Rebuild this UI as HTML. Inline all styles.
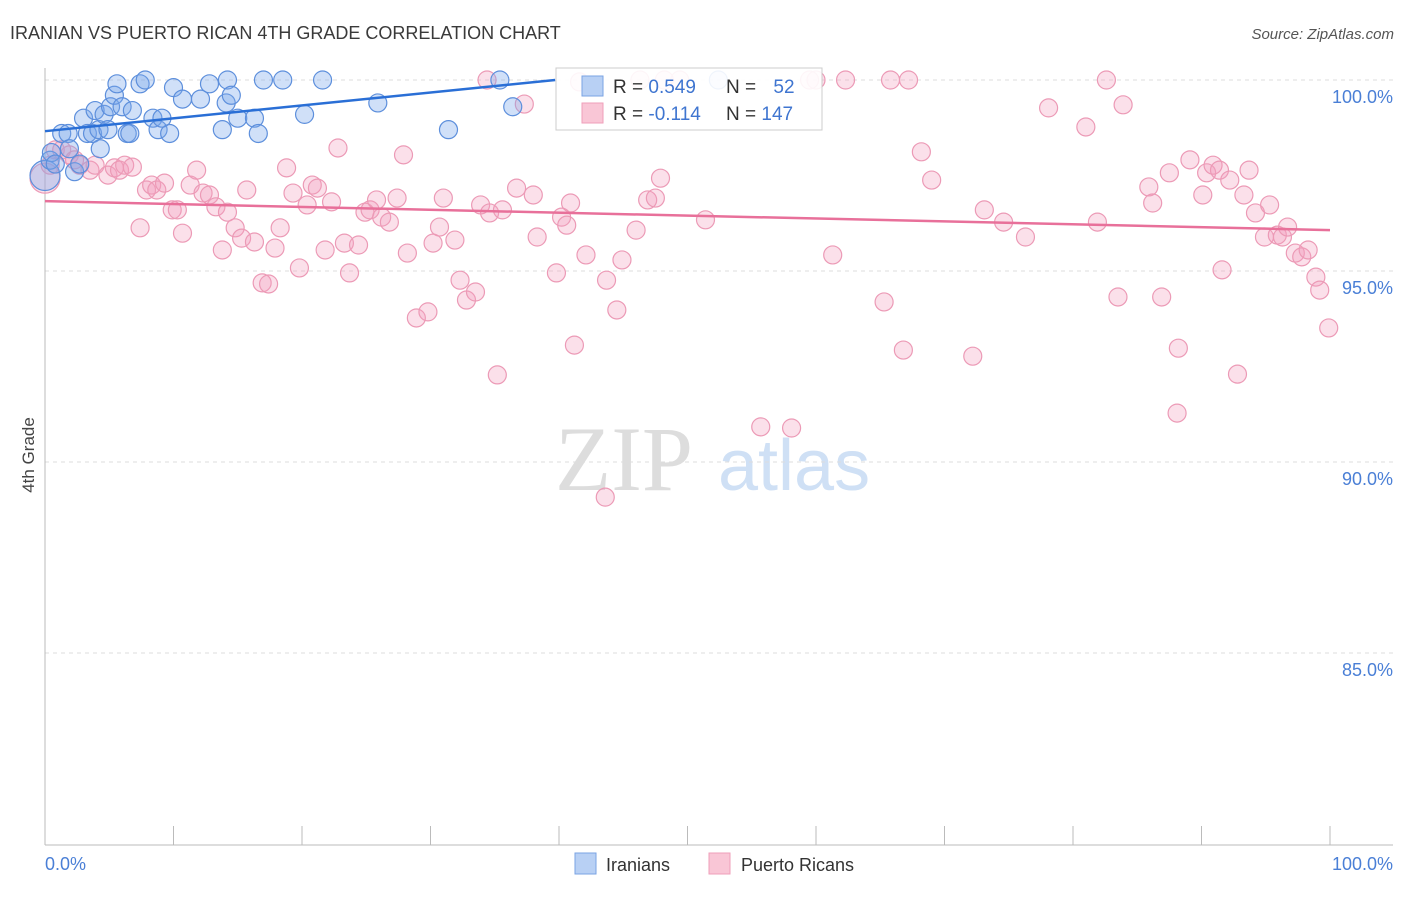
<!DOCTYPE html>
<html><head><meta charset="utf-8"><style>
body{margin:0;background:#fff;font-family:"Liberation Sans",sans-serif}
</style></head><body>
<svg id="chart" width="1406" height="892" viewBox="0 0 1406 892" xmlns="http://www.w3.org/2000/svg" font-family="Liberation Sans, sans-serif">
<text x="10" y="39" font-size="18" fill="#3a3a3a">IRANIAN VS PUERTO RICAN 4TH GRADE CORRELATION CHART</text>
<text x="1394" y="39" font-size="15" fill="#555" text-anchor="end" font-style="italic">Source: ZipAtlas.com</text>
<g>
<text x="555" y="490" font-size="92" fill="#ddd" font-family="Liberation Serif, serif">ZIP</text>
<text x="718" y="490" font-size="72" fill="#cfe0f5">atlas</text>
</g>
<g id="grid"></g>
<g id="axes"></g>
<g id="pts"></g>
<g id="lines"></g>
<text transform="translate(34,455) rotate(-90)" font-size="17" fill="#444" text-anchor="middle">4th Grade</text>
<g>
<rect x="556" y="68" width="266" height="62" fill="#fff" fill-opacity="0.9" stroke="#ccc"/>
<rect x="582" y="76" width="21" height="20" fill="#b8d0f4" stroke="#7aa3e3"/>
<rect x="582" y="103" width="21" height="20" fill="#f9c6d6" stroke="#ef9fba"/>
<text x="613" y="93" font-size="19" fill="#333">R = <tspan fill="#3f75d0">0.549</tspan></text>
<text x="726" y="93" font-size="19" fill="#333">N = <tspan fill="#3f75d0" dx="12">52</tspan></text>
<text x="613" y="120" font-size="19" fill="#333">R = <tspan fill="#3f75d0">-0.114</tspan></text>
<text x="726" y="120" font-size="19" fill="#333">N = <tspan fill="#3f75d0">147</tspan></text>
</g>
<g>
<rect x="575" y="853" width="21" height="21" fill="#b8d0f4" stroke="#7aa3e3"/>
<text x="606" y="871" font-size="18" fill="#333">Iranians</text>
<rect x="709" y="853" width="21" height="21" fill="#f9c6d6" stroke="#ef9fba"/>
<text x="741" y="871" font-size="18" fill="#333">Puerto Ricans</text>
</g>
</svg>
<script>
const yTicks=[100,95,90,85];
const yTickLabels=["100.0%","95.0%","90.0%","85.0%"];
const xLabels=["0.0%","100.0%"];
const blueX=[0,0.4,0.5,0.8,1.3,1.8,1.9,2.3,2.7,3.0,3.3,3.7,3.9,4.2,4.3,4.6,4.9,5.1,5.4,5.6,6.0,6.4,6.6,6.8,7.4,7.8,8.4,8.8,9.1,9.7,10.0,10.7,12.1,12.8,13.8,14.1,14.2,14.5,15.0,16.3,16.6,17.0,18.5,20.2,21.6,25.9,31.4,35.4,36.4,52.4];
const blueY=[97.5,97.9,98.1,97.8,98.6,98.6,98.2,97.6,97.8,99.0,98.6,98.6,99.2,98.7,98.2,99.1,98.7,99.3,99.6,99.9,99.3,98.6,98.6,99.2,99.9,100,99.0,98.7,99.0,98.6,99.8,99.5,99.5,99.9,98.7,99.4,100,99.6,99.0,99.0,98.6,100,100,99.1,100,99.4,98.7,100,99.3,100];
const pinkX=[0,0.4,0.8,1.3,1.9,2.3,2.7,3.5,3.9,4.9,5.4,5.8,6.2,6.8,7.4,7.9,8.3,8.7,9.3,9.9,10.3,10.7,11.3,11.8,12.3,12.8,13.3,13.8,14.2,14.8,15.3,15.7,16.3,16.9,17.4,17.9,18.3,18.8,19.3,19.8,20.4,20.8,21.2,21.8,22.3,22.8,23.3,23.7,24.4,24.9,25.3,25.8,26.2,26.8,27.4,27.9,28.2,28.9,29.8,30.2,30.7,31.0,31.9,32.3,32.8,33.5,33.9,34.6,35.2,35.6,36.7,37.3,38.0,38.3,39.8,40.2,40.6,40.9,41.2,42.1,43.6,43.7,44.5,44.9,46.0,46.9,47.5,47.9,49.4,51.4,55.7,58.1,60.0,61.3,62.3,65.3,65.8,66.8,67.2,68.2,69.0,72.2,73.1,74.6,76.3,78.1,81.0,81.9,82.6,83.5,83.9,85.9,86.2,86.9,87.5,88.2,88.1,89.1,90.1,90.4,90.9,91.4,91.6,92.2,92.8,93.3,93.7,94.2,94.9,95.3,95.9,96.3,96.7,97.3,97.8,98.3,98.9,99.2,99.9,34.4,48.2,59.5,41.6,46.3];
const pinkY=[97.43,97.77,98.17,98.17,98.04,97.91,97.77,97.64,97.77,97.51,97.70,97.64,97.77,97.72,96.13,97.12,97.25,97.12,97.30,96.60,96.60,95.99,97.25,97.64,97.04,96.99,96.68,95.55,96.54,96.13,95.86,97.12,95.76,94.69,94.66,95.60,96.13,97.70,97.04,95.08,96.73,97.25,97.17,95.55,96.81,98.22,95.73,94.95,95.68,96.54,96.60,96.86,96.41,96.28,96.91,98.04,95.47,93.77,93.93,95.73,96.15,96.91,95.81,94.76,94.24,94.45,96.73,96.52,92.28,96.60,97.17,99.37,96.99,95.89,94.95,96.41,96.20,96.78,93.06,95.42,89.08,94.76,93.98,95.29,96.07,96.86,96.91,97.43,100,96.34,90.92,90.89,100,95.42,100,94.19,100,92.93,100,98.12,97.38,92.77,96.60,96.28,95.89,99.27,98.77,96.28,100,94.32,99.35,97.20,96.78,94.32,97.57,92.98,91.28,97.91,96.99,97.57,97.77,97.64,95.03,97.38,92.30,96.99,97.64,96.52,95.89,96.73,95.94,95.89,96.15,95.47,95.37,95.55,94.84,94.50,93.51,100,100,100,99.95,100];
const blueTrend=[[0,98.66],[39.7,100]];
const pinkTrend=[[0,96.83],[100,96.07]];
const NS="http://www.w3.org/2000/svg";
const X=v=>45+v*12.85, Y=v=>80+(100-v)*38.2;
function mk(t,a,p){const e=document.createElementNS(NS,t);for(const k in a)e.setAttribute(k,a[k]);document.getElementById(p).appendChild(e);return e;}
yTicks.forEach((t,i)=>{
 const g=mk('line',{x1:45,x2:1393,y1:Y(t),y2:Y(t),stroke:'#ddd','stroke-dasharray':'4,4'},'grid');
 
 
 const l=mk('text',{x:1393,y:Y(t)+23,'font-size':18,fill:'#4a7fd6','text-anchor':'end'},'grid');
 l.textContent=yTickLabels[i];
 
 
});
const ax=mk('line',{x1:45,x2:45,y1:68,y2:845,stroke:'#bbb'},'axes');


const bx=mk('line',{x1:45,x2:1393,y1:845,y2:845,stroke:'#bbb'},'axes');


for(let i=0;i<=10;i++){const t=mk('line',{x1:X(i*10),x2:X(i*10),y1:826,y2:845,stroke:'#bbb'},'axes');
 
 }
[[0,'start',45],[1,'end',1393]].forEach(([i,a,x])=>{const t=mk('text',{x:x,y:870,'font-size':18,fill:'#4a7fd6','text-anchor':a},'axes');t.textContent=xLabels[i];
 
 });
pinkX.forEach((v,i)=>{const c=mk('circle',{cx:X(v),cy:Y(pinkY[i]),r:i==0?15:9,fill:'rgba(244,160,190,0.32)',stroke:'#ec9ab6','stroke-width':1.2},'pts');
 
 });
blueX.forEach((v,i)=>{const c=mk('circle',{cx:X(v),cy:Y(blueY[i]),r:i==0?15:9,fill:'rgba(120,165,235,0.35)',stroke:'#5d8fdc','stroke-width':1.2},'pts');
 
 });
const bl=mk('line',{x1:X(blueTrend[0][0]),y1:Y(blueTrend[0][1]),x2:X(blueTrend[1][0]),y2:Y(blueTrend[1][1]),stroke:'#2a6fd6','stroke-width':2.5},'lines');


const pl=mk('line',{x1:X(pinkTrend[0][0]),y1:Y(pinkTrend[0][1]),x2:X(pinkTrend[1][0]),y2:Y(pinkTrend[1][1]),stroke:'#e8709a','stroke-width':2.5},'lines');


</script>
</body></html>
